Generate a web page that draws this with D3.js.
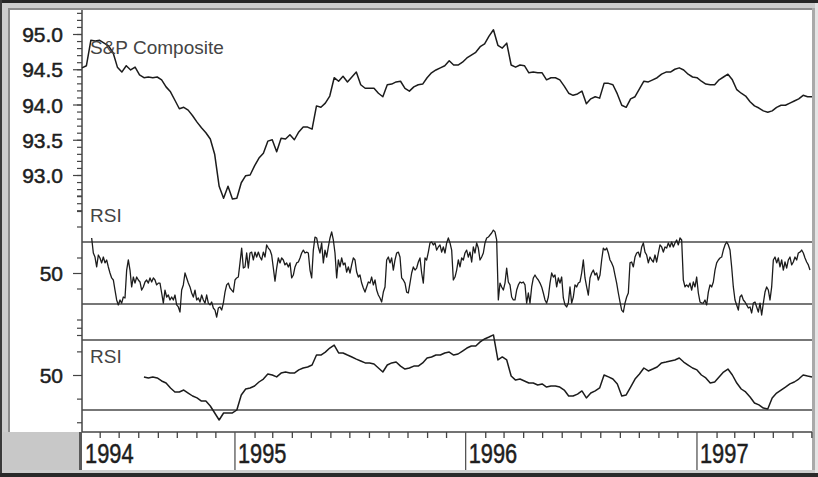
<!DOCTYPE html>
<html><head><meta charset="utf-8">
<script src="https://cdn.jsdelivr.net/npm/d3@7"></script>
<style>html,body{margin:0;padding:0;background:#fff;}svg{display:block;}</style>
</head><body>
<script>
// ---- data ----
const startDate = new Date(1994, 4, 4);
const endDate = new Date(1997, 6, 2);
const weekCount = 166;                       // price & long RSI: weekly samples
const shortStart = new Date(1994, 4, 19, 7); // short RSI: samples every ~2.64 days
const shortStepDays = 2.637;

const priceValues = [
94.52,94.55,94.91,94.90,94.91,94.87,94.83,94.74,94.53,94.46,
94.55,94.49,94.53,94.42,94.38,94.39,94.38,94.39,94.35,94.25,
94.18,94.06,93.94,93.96,93.92,93.84,93.75,93.67,93.60,93.51,
93.29,92.84,92.67,92.84,92.66,92.67,92.89,92.99,93.00,93.13,
93.24,93.31,93.48,93.50,93.33,93.52,93.51,93.57,93.50,93.61,
93.68,93.68,93.65,93.98,93.96,94.02,94.12,94.38,94.33,94.40,
94.32,94.39,94.46,94.28,94.23,94.23,94.23,94.16,94.11,94.28,
94.29,94.32,94.33,94.23,94.19,94.25,94.28,94.29,94.38,94.45,
94.49,94.52,94.55,94.62,94.56,94.56,94.60,94.66,94.70,94.74,
94.82,94.86,94.97,95.06,94.84,94.80,94.87,94.56,94.53,94.56,
94.55,94.45,94.46,94.45,94.45,94.35,94.38,94.38,94.35,94.26,
94.16,94.13,94.15,94.19,94.01,94.08,94.11,94.09,94.30,94.30,
94.28,94.15,93.99,93.96,94.08,94.11,94.22,94.33,94.32,94.35,
94.38,94.43,94.46,94.46,94.50,94.52,94.49,94.43,94.39,94.38,
94.33,94.29,94.28,94.28,94.35,94.39,94.43,94.35,94.21,94.16,
94.12,94.04,93.98,93.95,93.91,93.89,93.91,93.96,93.99,93.99,
94.02,94.05,94.08,94.13,94.11,94.11];

const rsiShort = [
72.6,62.9,60.3,53.9,61.6,59.7,56.5,60.3,56.5,58.4,
53.9,50.0,46.8,45.5,39.0,32.6,29.4,32.6,30.6,34.5,
33.9,51.9,58.4,51.9,41.0,47.4,43.5,47.4,45.5,44.2,
39.0,41.0,44.2,45.5,43.5,46.8,44.2,46.8,45.5,42.3,
43.5,43.5,37.1,30.6,39.0,34.5,35.8,32.6,34.5,32.6,
35.8,29.4,28.1,24.8,39.0,42.3,50.0,46.8,43.5,41.0,
37.1,34.5,39.0,32.6,33.9,31.3,35.8,32.6,30.6,35.8,
30.6,29.4,31.3,27.4,26.1,21.6,27.4,28.1,26.1,30.6,
37.7,42.3,43.5,40.3,39.0,37.7,45.5,46.8,47.4,56.5,
66.1,53.2,53.9,62.9,53.2,62.9,63.5,58.4,63.5,60.3,
63.5,60.3,58.4,63.5,60.3,68.1,66.1,64.8,61.6,53.2,
44.8,53.2,59.7,56.5,59.7,58.4,55.2,56.5,53.9,56.5,
46.8,48.7,53.9,56.5,57.1,59.7,62.9,64.8,62.9,63.5,
62.9,51.9,46.8,64.8,73.2,72.6,66.8,62.9,69.4,56.5,
64.8,60.3,66.8,72.6,76.5,71.3,62.9,46.8,58.4,53.9,
59.7,55.2,56.5,50.6,53.9,50.0,55.2,59.7,58.4,50.6,
47.4,48.7,43.5,40.3,37.7,41.0,44.2,43.5,47.4,42.3,
45.5,39.0,35.8,33.9,31.3,37.7,41.0,58.4,60.3,56.5,
59.7,51.9,58.4,62.9,63.5,60.3,46.8,45.5,43.5,37.7,
37.1,43.5,50.0,53.9,51.9,53.2,57.1,59.7,50.0,43.5,
59.7,58.4,63.5,69.4,70.0,68.1,69.4,64.8,66.8,68.1,
63.5,66.8,62.9,69.4,72.6,69.4,64.8,45.5,47.4,51.9,
58.4,53.9,59.7,58.4,62.9,64.8,60.3,63.5,57.1,66.8,
62.9,69.4,66.1,58.4,60.3,62.9,69.4,72.6,73.2,74.5,
75.8,77.7,76.5,71.3,32.6,43.5,41.0,39.0,43.5,53.2,
44.2,42.3,34.5,32.6,32.6,39.0,42.3,44.2,43.5,44.2,
42.3,30.6,37.1,30.6,41.0,46.8,48.7,46.8,45.5,43.5,
41.0,37.1,32.6,30.6,34.5,43.5,50.0,47.4,48.7,41.0,
46.8,43.5,47.4,33.9,29.4,28.1,30.6,41.0,30.6,34.5,
42.3,41.0,43.5,44.2,50.0,58.4,46.8,41.0,35.8,46.8,
50.0,51.9,48.7,50.0,45.5,48.7,58.4,66.1,64.8,66.1,
62.9,58.4,56.5,53.9,48.7,43.5,37.1,31.3,26.1,24.8,
30.6,34.5,37.1,56.5,57.1,53.9,60.3,62.9,63.5,60.3,
66.8,69.4,63.5,61.6,56.5,60.3,58.4,57.1,61.6,57.1,
62.9,68.1,66.8,63.5,66.8,66.1,69.4,66.8,70.0,66.8,
69.4,71.3,68.1,72.6,71.3,45.5,41.0,42.3,41.0,43.5,
39.0,44.2,41.0,47.4,37.1,31.3,30.6,30.6,32.6,29.4,
37.7,42.3,41.0,44.2,51.9,56.5,58.4,59.7,60.3,64.8,
68.1,70.0,68.1,64.8,53.9,41.0,32.6,29.4,26.1,34.5,
35.8,32.6,31.3,29.4,27.4,28.1,24.2,30.6,31.3,28.1,
24.8,30.6,22.9,30.6,37.7,41.0,39.0,32.6,41.0,58.4,
60.3,56.5,59.7,53.9,58.4,51.9,57.1,53.2,58.4,60.3,
55.2,57.1,60.3,58.4,62.9,63.5,64.8,62.9,59.7,57.1,
55.2,51.9];

const rsiLong = [null,null,null,null,null,null,null,null,null,null,null,null,null,null,
48.9,48.3,48.9,48.3,46.6,45.4,
42.6,40.3,40.3,41.4,39.7,38.0,36.9,35.1,35.1,32.3,
28.3,24.3,28.3,28.3,28.3,30.0,38.6,42.0,42.6,43.7,
46.0,47.7,50.6,50.0,48.9,51.1,51.7,51.1,51.1,52.9,
54.0,54.6,55.7,61.4,61.4,63.1,65.4,67.1,62.6,62.6,
61.4,60.3,59.1,58.0,56.9,56.9,56.3,54.0,51.7,55.7,
56.9,57.4,55.1,53.4,54.0,55.1,55.1,56.9,59.7,60.3,
61.4,61.4,62.6,63.1,61.4,62.0,63.7,65.4,66.6,66.6,
68.9,70.6,71.7,72.9,58.6,60.3,58.6,49.4,47.1,47.7,
46.6,45.4,45.4,44.3,44.9,43.1,43.7,43.7,43.1,41.4,
38.0,38.0,39.1,40.9,36.9,39.7,40.9,42.6,50.0,48.9,
47.7,44.9,38.0,38.6,43.1,47.7,50.6,54.0,52.3,53.4,
54.6,56.9,57.4,58.0,58.6,59.7,57.4,55.7,54.0,52.9,
50.0,48.3,45.4,46.0,48.9,51.7,53.4,50.0,45.4,42.0,
40.3,37.4,34.0,32.9,31.1,30.6,36.9,39.7,41.4,43.1,
44.9,46.0,47.7,50.0,49.4,48.9];

const priceMajorTicks = [93.0, 93.5, 94.0, 94.5, 95.0];
const priceMinorTicks = d3.range(92.5, 95.35, 0.1);
const rsiShortTicks = [100, 90, 80, 60, 40, 20, 10];
const rsiLongTicks = [77, 63.5, 36.5, 23];
const rsiLevels = [70, 30];
const yearLabels = ["1994", "1995", "1996", "1997"];

const weekDates = d3.range(weekCount).map(i => d3.timeDay.offset(startDate, 7 * i));
const shortDates = rsiShort.map((v, k) => d3.timeMinute.offset(shortStart, Math.round(k * shortStepDays * 1440)));

// ---- drawing ----
const W = 818, H = 477;
const svg = d3.select("body").append("svg").attr("width", W).attr("height", H);
const FONT = "'Liberation Sans', Arial, sans-serif";

// frame
svg.append("rect").attr("x",0).attr("y",0).attr("width",W).attr("height",H).attr("fill","#cdcdcd");
svg.append("rect").attr("x",0).attr("y",0).attr("width",W).attr("height",3).attr("fill","#262626");
svg.append("rect").attr("x",0).attr("y",0).attr("width",2).attr("height",H).attr("fill","#3a3a3a");
svg.append("rect").attr("x",0).attr("y",473).attr("width",W).attr("height",4).attr("fill","#2a2a2a");
svg.append("rect").attr("x",815).attr("y",3).attr("width",3).attr("height",470).attr("fill","#e4e4e4");
svg.append("rect").attr("x",8).attr("y",8).attr("width",806).attr("height",426).attr("fill","#8c8c8c");
svg.append("rect").attr("x",10).attr("y",10).attr("width",802).attr("height",422).attr("fill","#ffffff");
svg.append("rect").attr("x",3).attr("y",432).attr("width",77).attr("height",38).attr("fill","#c8c8c8");
svg.append("rect").attr("x",82).attr("y",432).attr("width",730).attr("height",38).attr("fill","#ffffff");
svg.append("rect").attr("x",812).attr("y",8).attr("width",3).attr("height",462).attr("fill","#a9a9a9");
svg.append("rect").attr("x",79).attr("y",432).attr("width",3).attr("height",38).attr("fill","#5a5a5a");

// scales
const x = d3.scaleTime().domain([startDate, endDate]).range([82, 812]);
const yP = d3.scaleLinear().domain([93, 95]).range([175, 34]);
const yR1 = d3.scaleLinear().domain([30, 70]).range([304, 242]);
const yR2 = d3.scaleLinear().domain([30, 70]).range([410, 340]);

// y axis line
svg.append("line").attr("x1",82).attr("x2",82).attr("y1",10).attr("y2",432)
  .attr("stroke","#444").attr("stroke-width",1.5);

function tickAxis(scale, values, size, labels) {
  const ax = d3.axisLeft(scale).tickValues(values).tickSize(size).tickSizeOuter(0)
    .tickFormat(labels ? labels : () => "");
  const g = svg.append("g").attr("transform","translate(82,0)").call(ax);
  g.select(".domain").remove();
  g.selectAll(".tick line").attr("stroke","#444").attr("stroke-width",1.2);
  g.selectAll(".tick text").attr("font-family",FONT).attr("font-size",21)
    .attr("fill","#1e1e1e").attr("stroke","#1e1e1e").attr("stroke-width",0.5)
    .attr("x",-19).attr("dy","0.36em");
  return g;
}
tickAxis(yP, priceMinorTicks, 5);
tickAxis(yP, priceMajorTicks, 9, d => d3.format(".1f")(d));
tickAxis(yR1, rsiShortTicks, 5);
tickAxis(yR1, [50], 9, d => String(d));
tickAxis(yR2, rsiLongTicks, 5);
tickAxis(yR2, [50], 9, d => String(d));

// RSI level lines
const levelG = svg.append("g");
[yR1, yR2].forEach(s => {
  rsiLevels.forEach(v => levelG.append("line").attr("x1",82).attr("x2",812)
    .attr("y1",s(v)).attr("y2",s(v)).attr("stroke","#4a4a4a").attr("stroke-width",1.6));
});

// series lines
function drawSeries(dates, values, yScale, w) {
  const data = dates.map((d, i) => ({d, v: values[i]}));
  const line = d3.line().defined(p => p.v != null).x(p => x(p.d)).y(p => yScale(p.v));
  svg.append("path").datum(data).attr("d", line).attr("fill","none")
    .attr("stroke","#1c1c1c").attr("stroke-width",w).attr("stroke-linejoin","round");
}
drawSeries(weekDates, priceValues, yP, 1.5);
drawSeries(shortDates, rsiShort, yR1, 1.3);
drawSeries(weekDates, rsiLong, yR2, 1.5);

// panel labels
[["S&P Composite", 54], ["RSI", 222], ["RSI", 363]].forEach(([t, yy]) => {
  svg.append("text").attr("x",90).attr("y",yy).text(t)
    .attr("font-family",FONT).attr("font-size",19).attr("fill","#444");
});

// x axis
svg.append("line").attr("x1",82).attr("x2",812).attr("y1",432).attr("y2",432)
  .attr("stroke","#444").attr("stroke-width",1.5);
const months = d3.timeMonth.range(d3.timeMonth.ceil(startDate), endDate)
  .filter(m => m.getMonth() !== 0);
const xa = d3.axisBottom(x).tickValues(months).tickSize(6).tickFormat(() => "");
const xg = svg.append("g").attr("transform","translate(0,432)").call(xa);
xg.select(".domain").remove();
xg.selectAll(".tick line").attr("stroke","#444").attr("stroke-width",1.3);

yearLabels.forEach(lbl => {
  const yd = new Date(+lbl, 0, 1);
  const px = Math.max(x(yd), 82);
  if (x(yd) > 82) {
    svg.append("line").attr("x1",px).attr("x2",px).attr("y1",432).attr("y2",470)
      .attr("stroke","#555").attr("stroke-width",1.3);
  }
  svg.append("text").attr("transform",`translate(${px + 3},463) scale(0.78,1)`)
    .text(lbl).attr("font-family",FONT).attr("font-size",28)
    .attr("fill","#1e1e1e").attr("stroke","#1e1e1e").attr("stroke-width",0.5);
});
</script>
</body></html>
